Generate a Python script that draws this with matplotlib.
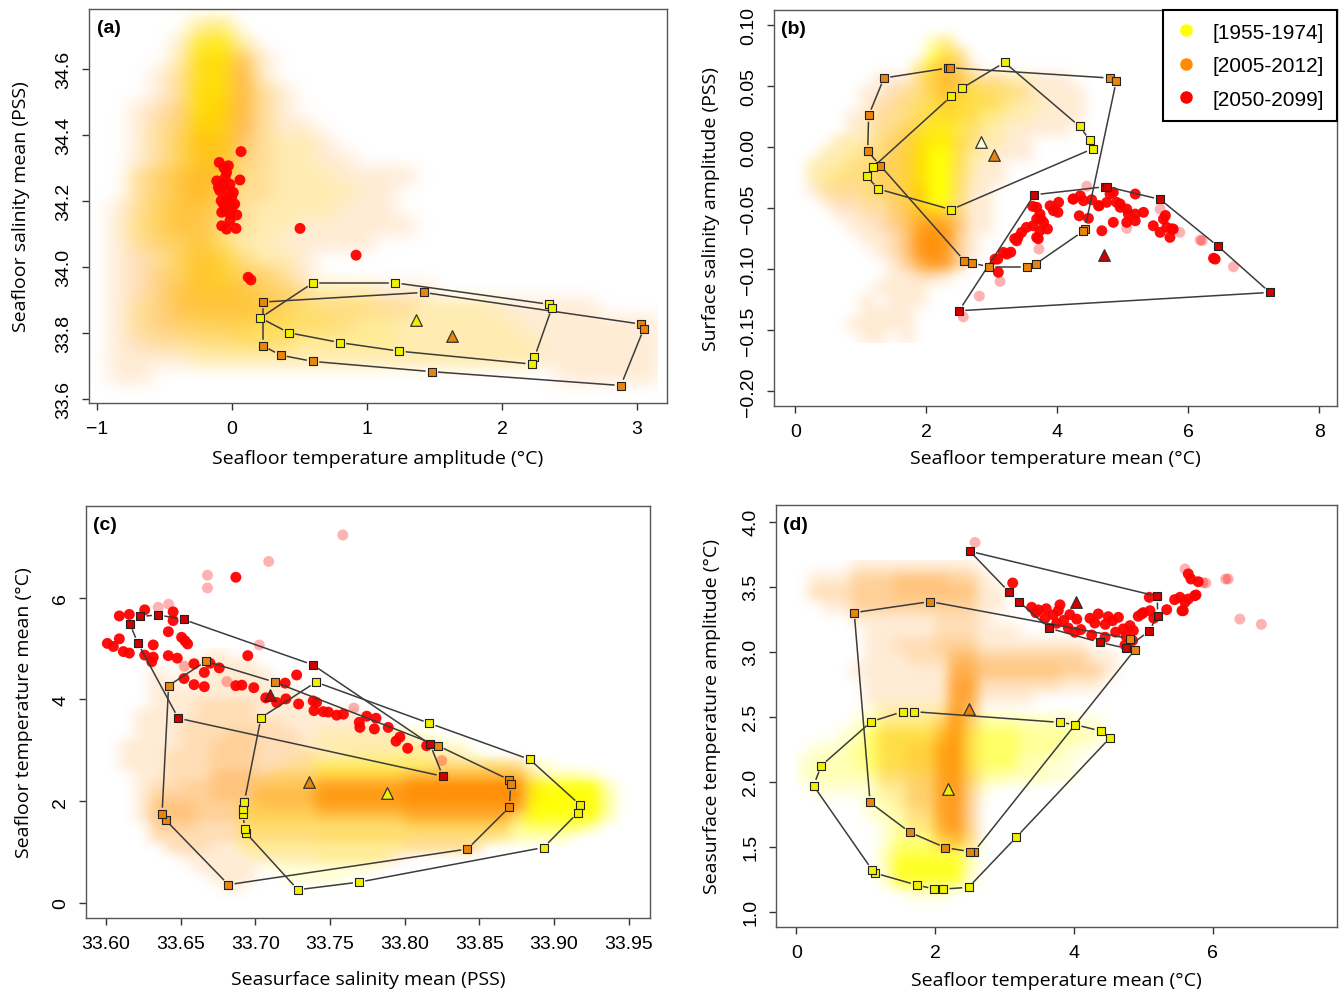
"""
Four-panel climate envelope plot: per-period clouds, hull outlines and centroids
"""

import numpy as np
import matplotlib.pyplot as plt
from matplotlib.colors import to_rgb
from matplotlib.lines import Line2D

plt.rcParams['font.family'] = ['Liberation Sans', 'DejaVu Sans']

YELLOW, ORANGE, RED = '#FFFF00', '#FF8C00', '#FF0000'
SQ_FACE = {'y': '#F0F000', 'o': '#E8850F', 'r': '#D00000'}
PERIODS = ['[1955-1974]', '[2005-2012]', '[2050-2099]']

# ---------------- panel (a) ----------------
a_xticks = [-1, 0, 1, 2, 3]
a_yticks = [33.6, 33.8, 34.0, 34.2, 34.4, 34.6]
a_xlim, a_ylim = (-1.059, 3.222), (33.587, 34.781)
a_grid_extent, a_grid_cols = (-1.05, 3.15, 33.6, 34.8), 28
a_yel_cloud = [
    "", "5:2 6:3", "5:7 6:8 7:1", "4:1 5:8 6:9 7:2", "4:1 5:8 6:9 7:2",
    "4:1 5:9 6:9 7:2 8:1", "4:1 5:9 6:9 7:2 8:1", "3:1 4:2 5:9 6:8 7-8:1",
    "3:1 4:3 5:8 6:7 7-10:1", "3:1 4:3 5:7 6:6 7-10:1",
    "2:1 3:2 4:4 5:5 6:5 7:2 8-11:1", "2:1 3:2 4:4 5:5 6:3 7-12:1",
    "2:1 3:3 4:4 5:4 6:2 7-11:1", "2:2 3:3 4:4 5:3 6:2 7-9:1",
    "2:1 3:2 4:3 5:4 6:3 7-8:1", "3:1 4:3 5:5 6:5 7:2 8-9:1",
    "3:1 4:3 5:6 6:6 7:3 8:2 9:1", "3:1 4:3 5:5 6:5 7:4 8:3 9:2 10-13:1",
    "2-3:1 4:3 5-8:4 9-10:3 11-13:2 14-19:1",
    "2-3:1 4:2 5-6:3 7-9:4 10-11:3 12-14:2 15-20:1",
    "3-4:1 5-6:2 7-9:3 10-14:2 15-21:1", "5-21:1", "", "",
]
a_org_cloud = [
    "", "5-6:1", "4:1 5:1 6:1 7:1", "4:1 5:2 6:2 7:4 8:1",
    "3:1 4:2 5:2 6:2 7:5 8:1", "3:1 4:2 5:2 6:2 7:5 8:2 9:1",
    "2:1 3:2 4:3 5:2 6:3 7:5 8:2 9:1", "2:1 3:2 4:3 5:3 6:3 7:5 8:2 9-10:1",
    "2:1 3:2 4:3 5:4 6:4 7:4 8:2 9-11:1", "2:1 3:2 4:3 5:4 6:4 7:3 8:2 9-12:1",
    "2:2 3:3 4:4 5:5 6:4 7:2 8:2 9-15:1", "2:2 3:3 4:4 5:5 6:3 7:2 8:2 9-14:1",
    "1:1 2:2 3:3 4:4 5:4 6:3 7:2 8-14:1", "1:1 2:2 3:3 4:4 5:4 6:2 7:2 8-15:1",
    "1:1 2:2 3:3 4:3 5:4 6:2 7-13:1", "1:1 2:2 3:2 4:3 5:4 6:3 7:2 8-10:1",
    "1:1 2:2 3:3 4:3 5:4 6:3 7:3 8:3 9:2 10:1",
    "1:1 2:2 3:3 4-7:4 8:3 9:3 10:2 11-16:1",
    "1:1 2:2 3:3 4-8:4 9:3 10-15:2 16-24:1",
    "1:1 2:2 3-7:3 8-12:2 13-27:1", "1:1 2-9:2 10-27:1", "1-27:1",
    "1-2:1 23-27:1", "",
]
a_red_x = [0.067, -0.094, -0.027, -0.04, -0.113, -0.064, -0.015, 0.059, -0.089, 0.01,
           -0.04, -0.002, -0.064, -0.052, -0.076, -0.015, 0.035, -0.015, -0.076, -0.04,
           0.03, 0.504, 0.919, 0.12, 0.14, -0.10, -0.05, 0.0, -0.03, 0.02, -0.08, -0.06]
a_red_y = [34.349, 34.316, 34.306, 34.286, 34.26, 34.25, 34.25, 34.263, 34.23, 34.225,
           34.205, 34.21, 34.19, 34.17, 34.165, 34.16, 34.157, 34.14, 34.124, 34.114,
           34.116, 34.116, 34.035, 33.968, 33.96, 34.24, 34.27, 34.18, 34.23, 34.19, 34.2, 34.3]
a_red_fx, a_red_fy = [], []
a_yel_hx = [0.21, 0.60, 1.21, 2.35, 2.37, 2.24, 2.22, 1.24, 0.80, 0.42]
a_yel_hy = [33.845, 33.951, 33.951, 33.886, 33.876, 33.725, 33.705, 33.744, 33.770, 33.800]
a_org_hx = [0.23, 1.42, 3.03, 3.05, 2.88, 1.48, 0.60, 0.36, 0.23]
a_org_hy = [33.893, 33.922, 33.826, 33.812, 33.640, 33.682, 33.713, 33.732, 33.760]
a_tri = {'y': (1.36, 33.84), 'o': (1.63, 33.79)}

# ---------------- panel (b) ----------------
b_xticks = [0, 2, 4, 6, 8]
b_yticks = [-0.20, -0.15, -0.10, -0.05, 0.00, 0.05, 0.10]
b_xlim, b_ylim = (-0.325, 8.27), (-0.212, 0.1123)
b_grid_extent, b_grid_cols = (0.0, 6.0, -0.16, 0.10), 30
b_yel_cloud = [
    "", "10:2 11:3", "10:5 11:5 12:2", "9:2 10:6 11:5 12:2",
    "9:2 10:5 11:4 12:3 13:2 14-17:1",
    "8:1 9:2 10:4 11:5 12:6 13:5 14:4 15:3 16:2 17:1",
    "7:1 8:2 9:3 10:5 11:6 12:6 13:5 14:4 15:3 16:2 17-18:1",
    "6-7:1 8:2 9:4 10:6 11:7 12:6 13:4 14:3 15:2 16-17:1",
    "5-6:1 7:2 8:3 9:6 10:8 11:8 12:5 13:3 14:2 15:1",
    "3-5:1 6-7:2 8:4 9:8 10:9 11:9 12:5 13:2 14-15:1",
    "2-3:1 4-6:2 7:3 8:5 9-11:9 12:4 13:2 14:1",
    "1-2:1 3-5:2 6-7:3 8:5 9-11:9 12:4 13:1",
    "1:1 2-5:2 6-7:3 8:5 9-11:9 12:3 13:1",
    "2-4:1 5-6:2 7:3 8:5 9-11:9 12:3",
    "5-6:1 7:2 8:4 9:8 10:9 11:8 12:2",
    "7:1 8:2 9:5 10:7 11:5 12:1", "8:1 9-11:2", "9-11:1",
    "", "", "", "", "", "", "", "",
]
b_org_cloud = [
    "", "11:1", "11-12:2", "9:1 10:2 11:4 12:3 13:1",
    "6-8:1 9:2 10:3 11:5 12:4 13-15:2 16-20:1",
    "5-6:1 7-9:2 10:3 11:4 12:3 13-17:2 18-21:1",
    "5:1 6-10:2 11:3 12-15:2 16-21:1",
    "4-5:1 6-13:2 14-21:1",
    "4-5:1 6-7:2 8:3 9:2 10-12:1 13:2 14-20:1",
    "3-5:1 6:2 7-8:3 9:2 10-11:1 12-13:2 14-17:1",
    "2-4:1 5-6:2 7-8:3 9:2 12:2 13-17:1",
    "1-3:1 4-5:2 6-8:3 9:2 12:2 13-15:1",
    "1-2:1 3-5:2 6-8:3 9:2 12:2 13-15:1",
    "1:1 2-5:2 6-9:3 12:2 13-14:1",
    "2:1 3-6:2 7-9:3 12:2 13-14:1",
    "3-4:1 5-6:2 7:3 8:4 9:5 10-11:4 12:3 13-14:1",
    "4-5:1 6:2 7:3 8:4 9:7 10:8 11:7 12:4 13-14:1",
    "5-6:1 7:2 8:4 9:8 10:9 11:8 12:3 13:1",
    "6:1 7:2 8:4 9:8 10:9 11:8 12:3 13:1",
    "7:1 8:3 9:6 10:8 11:7 12:3", "7-8:1 9-10:2 11:1",
    "6-9:1", "5:1 7-9:1", "5-8:1", "4-8:1", "5-6:1 8:1",
]
b_red_x = [3.625, 3.735, 3.89, 4.02, 3.94, 3.685, 3.79, 3.63, 3.53, 3.455, 3.40, 3.38,
           3.685, 3.735, 3.23, 3.175, 3.05, 3.10, 4.245, 4.35, 4.40, 4.525, 4.63, 4.755,
           4.805, 4.855, 4.905, 4.96, 5.06, 5.085, 5.19, 5.315, 5.19, 4.855, 4.68, 4.475,
           4.335, 5.465, 5.57, 5.67, 5.72, 5.77, 5.62, 6.385, 3.685, 3.75, 3.85, 3.71,
           3.35, 3.29, 3.09, 4.01, 4.24, 4.64, 4.96, 5.19, 5.06, 5.65, 5.75, 6.41]
b_red_y = [-0.0485, -0.0548, -0.048, -0.0452, -0.052, -0.0589, -0.0616, -0.0644, -0.0657,
           -0.0698, -0.0739, -0.0767, -0.0739, -0.0685, -0.0876, -0.0862, -0.0917, -0.1025,
           -0.0425, -0.0398, -0.0439, -0.0431, -0.048, -0.0452, -0.0384, -0.037, -0.0452,
           -0.0466, -0.0507, -0.0548, -0.0603, -0.0534, -0.0384, -0.0616, -0.0685, -0.0583,
           -0.0562, -0.0644, -0.0698, -0.0657, -0.0739, -0.0671, -0.0589, -0.091, -0.0493,
           -0.0589, -0.067, -0.075, -0.075, -0.086, -0.0917, -0.0534, -0.0425, -0.048,
           -0.0493, -0.0548, -0.0616, -0.056, -0.067, -0.0917]
b_red_fx = [3.125, 2.81, 2.565, 5.06, 5.87, 5.57, 6.18, 6.69, 3.72, 4.45, 6.21]
b_red_fy = [-0.110, -0.122, -0.139, -0.0665, -0.0698, -0.0507, -0.0761, -0.098, -0.0835,
            -0.032, -0.0766]
b_yel_hx = [3.195, 4.34, 4.50, 4.54, 2.38, 1.27, 1.09, 1.183, 2.38, 2.54]
b_yel_hy = [0.0694, 0.017, 0.0055, -0.0013, -0.0512, -0.0343, -0.024, -0.0166, 0.0416, 0.0481]
b_org_hx = [1.354, 2.334, 2.36, 4.80, 4.90, 4.42, 4.39, 3.67, 3.54, 2.96, 2.70, 2.58,
            1.30, 1.105, 1.12]
b_org_hy = [0.0566, 0.0648, 0.065, 0.0566, 0.0541, -0.067, -0.069, -0.0957, -0.098,
            -0.098, -0.095, -0.093, -0.0152, -0.0035, 0.026]
b_red_hx = [3.65, 4.73, 4.76, 5.57, 6.456, 7.245, 2.50]
b_red_hy = [-0.039, -0.0324, -0.0324, -0.0428, -0.0813, -0.119, -0.134]
b_tri = {'y': (2.83, 0.0039), 'o': (3.04, -0.0065), 'r': (4.72, -0.088)}

# ---------------- panel (c) ----------------
c_xticks = [33.60, 33.65, 33.70, 33.75, 33.80, 33.85, 33.90, 33.95]
c_yticks = [0, 2, 4, 6]
c_xlim, c_ylim = (33.5867, 33.9642), (-0.295, 7.80)
c_grid_extent, c_grid_cols = (33.59, 33.95, 0.0, 5.0), 36
c_yel_cloud = [
    "", "", "", "", "", "", "", "",
    "15-22:1", "15-24:1", "14-16:1 17-22:2 23-25:1",
    "13-14:1 15-22:4 23-27:2 28-30:1",
    "12-14:2 15-20:5 21-28:3 29-32:2 33:1",
    "11-14:2 15-20:3 21-28:2 29-33:8 34:2",
    "11-14:2 15-20:3 21-28:2 29-33:9 34:3",
    "10-14:3 15-20:3 21-28:2 29-33:9 34:3",
    "10-14:3 15-20:3 21-28:3 29-33:8 34:2",
    "10-14:3 15-20:3 21-28:3 29-32:5 33:2",
    "10-14:2 15-20:3 21-27:2 28-31:2",
    "10-14:2 15-20:2 21-25:1", "11-14:1 15-19:2", "12-18:1", "13-16:1", "", "",
]
c_org_cloud = [
    "8:1", "6-10:1", "4:1 6-11:1", "4-5:1 7-12:1", "4-13:1",
    "4-6:1 7-10:2 11-14:1", "3-6:1 7-10:2 11-17:1",
    "3-5:1 6-12:2 13-18:1", "3-5:1 6-8:2 9-10:3 11-13:2 14-20:1",
    "2-5:1 6-7:2 8-10:3 11-13:2 14-22:1",
    "2-4:1 5-7:2 8-10:3 11-14:2 15-24:1",
    "2-4:1 5-7:2 8-10:3 11-14:2 15-22:1 23-28:2",
    "3-4:1 5-7:2 8-10:4 11-20:3 21-28:5 29:1",
    "3:1 4-5:2 6-7:3 8-14:4 15-20:7 21-28:9 29:1",
    "3:1 4-7:3 8-10:4 11-14:5 15-20:8 21-28:9 29:1",
    "3:1 4-6:4 7-10:3 11-14:4 15-20:7 21-28:8",
    "3:1 4-6:4 7-14:3 15-20:4 21-27:6 28:2",
    "4-6:3 7-20:2 21-27:3", "4-26:2 27:1",
    "5-7:2 8-20:1 21-25:2", "6-20:1", "7-10:1", "8-10:1", "9:1", "",
]
c_red_x = [33.609, 33.6157, 33.626, 33.645, 33.645, 33.6418, 33.6507, 33.653, 33.6547,
           33.601, 33.605, 33.609, 33.6117, 33.6157, 33.6317, 33.626, 33.6317, 33.6307,
           33.6418, 33.6478, 33.659, 33.6659, 33.6523, 33.659, 33.6659, 33.6759, 33.6697,
           33.687, 33.691, 33.699, 33.695, 33.707, 33.7143, 33.7205, 33.720, 33.7277,
           33.729, 33.7388, 33.741, 33.7393, 33.7455, 33.7489, 33.7545, 33.759, 33.7746,
           33.7808, 33.7696, 33.77, 33.7797, 33.789, 33.7968, 33.7942, 33.802, 33.8147,
           33.687]
c_red_y = [5.64, 5.67, 5.76, 5.72, 5.55, 5.33, 5.22, 5.15, 5.09, 5.10, 5.04, 5.19, 4.94,
           4.91, 5.07, 4.87, 4.83, 4.74, 4.86, 4.81, 4.70, 4.53, 4.41, 4.29, 4.25, 4.62,
           4.71, 4.27, 4.28, 4.23, 4.86, 4.03, 3.94, 4.01, 4.32, 4.48, 3.91, 3.97, 3.94,
           3.78, 3.76, 3.75, 3.69, 3.71, 3.67, 3.63, 3.55, 3.45, 3.42, 3.45, 3.26, 3.18,
           3.04, 3.09, 6.40]
c_red_fx = [33.635, 33.642, 33.6525, 33.681, 33.7027, 33.766, 33.8248, 33.7586, 33.709,
            33.668, 33.668]
c_red_fy = [5.81, 5.87, 4.65, 4.35, 5.07, 3.83, 2.80, 7.23, 6.71, 6.44, 6.19]
c_yel_hx = [33.7406, 33.8166, 33.8837, 33.9173, 33.9158, 33.893, 33.7695, 33.7285, 33.694,
            33.6932, 33.6915, 33.6915, 33.6927, 33.7038]
c_yel_hy = [4.34, 3.53, 2.82, 1.93, 1.77, 1.09, 0.41, 0.26, 1.37, 1.45, 1.75, 1.85, 1.99, 3.64]
c_org_hx = [33.667, 33.713, 33.8223, 33.870, 33.871, 33.870, 33.842, 33.682, 33.640,
            33.6376, 33.642]
c_org_hy = [4.75, 4.34, 3.09, 2.42, 2.33, 1.88, 1.06, 0.36, 1.63, 1.75, 4.27]
c_red_hx = [33.616, 33.623, 33.635, 33.652, 33.7385, 33.817, 33.8255, 33.6485, 33.6215]
c_red_hy = [5.49, 5.63, 5.66, 5.57, 4.68, 3.12, 2.49, 3.63, 5.10]
c_tri = {'y': (33.788, 2.16), 'o': (33.736, 2.38), 'r': (33.710, 4.09)}

# ---------------- panel (d) ----------------
d_xticks = [0, 2, 4, 6]
d_yticks = [1.0, 1.5, 2.0, 2.5, 3.0, 3.5, 4.0]
d_xlim, d_ylim = (-0.294, 7.79), (0.882, 4.128)
d_grid_extent, d_grid_cols = (0.0, 6.0, 1.0, 3.7), 30
d_yel_cloud = [
    "", "", "", "", "", "", "", "", "", "", "",
    "5-10:1",
    "4:1 5-15:3 16-19:2 20-21:1",
    "3:1 4:2 5-15:5 16-19:3 20-21:2",
    "1-2:1 3:2 4:3 5-15:5 16-18:3 19-20:1",
    "0:1 1-3:2 4:3 5-15:5 16-17:2 18-19:1",
    "0:1 1-4:2 5-14:3 15-17:2 18-19:1",
    "1-5:1 6-10:2 11-13:1", "5-10:2 11:1", "5:1 6-10:2",
    "6:1 7-10:3 11:2", "6:1 7-11:4 12:2", "6:2 7-11:6 12:2",
    "6:2 7-11:8 12:2", "6:1 7-11:7 12:1", "8-10:1", "",
]
d_org_cloud = [
    "4-12:1",
    "1-3:1 4-6:3 7-10:4 11-12:3 13:1",
    "1-3:2 4-6:3 7-12:4 13-14:1",
    "2-3:1 4-9:3 10-12:3 13-14:1",
    "4-9:1 10-12:2 13:1",
    "5-9:1 10-12:2 13-15:1",
    "5-6:1 7-9:2 10-12:3 13-20:1",
    "5-7:1 8-10:2 11-12:5 13-20:3 21-22:1",
    "4-10:1 11-12:6 13-18:4 19-21:3 22:1",
    "5-10:1 11-12:7 13-18:2 19-21:1",
    "5-10:1 11-12:7 13-16:1",
    "6-10:1 11:8 12:5",
    "6-9:1 10:3 11:8 12:3",
    "6-9:2 10:5 11:8 12:2",
    "6-7:2 8-9:3 10:7 11:8 12:2",
    "6-7:2 8-9:3 10:7 11:8 12:2",
    "6-7:2 8-9:3 10:7 11:8 12:3",
    "6-7:1 8-9:3 10:7 11:8 12:3",
    "7:1 8-9:3 10:7 11:8 12:3",
    "8-9:2 10:7 11:8 12:3",
    "8-9:1 10:6 11:8 12:3",
    "10:3 11:5 12:2",
    "", "", "", "", "",
]
d_red_x = [3.117, 3.39, 3.486, 3.582, 3.70, 3.774, 3.798, 3.75, 3.94, 4.04, 3.918, 4.014,
           4.23, 4.30, 4.35, 4.255, 4.447, 4.494, 4.557, 4.64, 4.71, 4.807, 4.855, 4.926,
           4.975, 5.095, 5.085, 5.336, 5.575, 5.527, 5.647, 5.758, 5.647, 5.686, 5.79,
           4.845, 4.735, 5.15, 5.74, 5.556, 3.45, 3.60, 3.85, 4.10, 4.45, 4.60, 4.75, 5.00,
           5.45, 5.60]
d_red_y = [3.528, 3.341, 3.321, 3.257, 3.282, 3.315, 3.36, 3.218, 3.285, 3.25, 3.182,
           3.149, 3.257, 3.22, 3.29, 3.128, 3.111, 3.269, 3.238, 3.264, 3.175, 3.20, 3.162,
           3.272, 3.29, 3.315, 3.418, 3.323, 3.315, 3.418, 3.405, 3.436, 3.598, 3.559,
           3.538, 3.085, 3.051, 3.257, 3.43, 3.315, 3.30, 3.33, 3.24, 3.17, 3.21, 3.15,
           3.12, 3.30, 3.40, 3.38]
d_red_fx = [5.60, 5.90, 6.223, 2.574, 6.39, 6.70, 5.86, 6.185]
d_red_fy = [3.636, 3.528, 3.559, 3.84, 3.25, 3.21, 3.53, 3.559]
d_yel_hx = [1.53, 1.70, 3.796, 4.02, 4.383, 4.52, 3.167, 2.48, 2.117, 1.988, 1.735, 1.13,
            1.093, 0.247, 0.358, 1.08]
d_yel_hy = [2.538, 2.538, 2.456, 2.438, 2.39, 2.338, 1.572, 1.187, 1.174, 1.174, 1.205,
            1.297, 1.32, 1.969, 2.123, 2.462]
d_org_hx = [0.833, 1.926, 4.80, 4.877, 2.56, 2.50, 2.148, 1.636, 1.062]
d_org_hy = [3.30, 3.385, 3.10, 3.015, 1.462, 1.462, 1.492, 1.61, 1.84]
d_red_hx = [2.50, 5.20, 5.206, 5.08, 4.75, 4.37, 3.644, 3.207, 3.063]
d_red_hy = [3.772, 3.426, 3.277, 3.157, 3.026, 3.072, 3.18, 3.385, 3.46]
d_tri = {'y': (2.19, 1.944), 'o': (2.488, 2.559), 'r': (4.03, 3.379)}


def parse_grid(specs, ncols):
    """Row specs like '3:1 5-8:4' -> density array (0..9)"""
    grid = np.zeros((len(specs), ncols))
    for j, spec in enumerate(specs):
        for tok in spec.split():
            cols, val = tok.split(':')
            lo, _, hi = cols.partition('-')
            grid[j, int(lo):int(hi or lo) + 1] = int(val)
    return grid


def soften(grid, up=6, sigma=2.6):
    """Upsample the density cells and blur them so the cloud edges are soft"""
    big = np.repeat(np.repeat(grid, up, axis=0), up, axis=1)
    r = int(3 * sigma)
    k = np.exp(-0.5 * (np.arange(-r, r + 1) / sigma) ** 2)
    k /= k.sum()
    big = np.apply_along_axis(lambda v: np.convolve(v, k, mode='same'), 0, big)
    big = np.apply_along_axis(lambda v: np.convolve(v, k, mode='same'), 1, big)
    return big


def draw_cloud(ax, specs, ncols, extent, color, z):
    dens = soften(parse_grid(specs, ncols))
    img = np.zeros(dens.shape + (4,))
    img[..., :3] = to_rgb(color)
    img[..., 3] = np.clip(0.97 * (dens / 9.0) ** 0.8, 0, 1)
    ax.imshow(img, extent=extent, origin='upper', aspect='auto',
              interpolation='bilinear', zorder=z)


def draw_hull(ax, xs, ys, key, gap=7):
    """Closed outline with R type='b' style gaps around the vertices"""
    pts = ax.transData.transform(np.column_stack([xs, ys]))
    inv = ax.transData.inverted()
    for p, q in zip(pts, np.roll(pts, -1, axis=0)):
        d = q - p
        L = np.hypot(*d)
        if L <= 2 * gap:
            continue
        u = d / L
        seg = inv.transform(np.array([p + u * gap, q - u * gap]))
        ax.plot(seg[:, 0], seg[:, 1], color='#3c3c3c', lw=1.1, zorder=4)
    ax.scatter(xs, ys, marker='s', s=38, c=SQ_FACE[key], edgecolors='#222222',
               linewidths=0.8, zorder=5)


def setup_axes(fig, box, xlim, ylim, xticks, yticks, xfmt, yfmt, xlabel, ylabel, lab_xy):
    L, R, T, B = box
    ax = fig.add_axes([L / 1344, (995 - B) / 995, (R - L) / 1344, (B - T) / 995])
    ax.set_xlim(*xlim)
    ax.set_ylim(*ylim)
    ax.set_xticks(xticks)
    ax.set_xticklabels([xfmt.format(v).replace('-', '\u2212') for v in xticks])
    ax.set_yticks(yticks)
    ax.set_yticklabels([yfmt.format(v).replace('-', '\u2212') for v in yticks],
                       rotation=90, va='center')
    ax.tick_params(direction='out', length=5, width=1, color='#333333',
                   labelsize=14, pad=7)
    for sp in ax.spines.values():
        sp.set_color('#555555')
        sp.set_linewidth(1.0)
    ax.set_xlabel(xlabel, family=['Open Sans', 'DejaVu Sans'], fontsize=14)
    ax.set_ylabel(ylabel, family=['Open Sans', 'DejaVu Sans'], fontsize=14)
    ax.xaxis.set_label_coords(0.5, lab_xy[1])
    ax.yaxis.set_label_coords(lab_xy[0], 0.5)
    return ax


def draw_panel(ax, letter, yel_cloud, org_cloud, ncols, extent, red_x, red_y, red_fx, red_fy,
               hulls, tri, pale_yellow_tri=False):
    draw_cloud(ax, yel_cloud, ncols, extent, YELLOW, 1)
    draw_cloud(ax, org_cloud, ncols, extent, ORANGE, 2)
    ax.scatter(red_fx, red_fy, s=62, color=RED, alpha=0.3, edgecolors='none', zorder=3)
    ax.scatter(red_x, red_y, s=62, color=RED, alpha=0.95, edgecolors='none', zorder=3)
    for key, (hx, hy) in hulls.items():
        draw_hull(ax, hx, hy, key)
    for key, (tx, ty) in tri.items():
        face = '#FFFFD8' if (key == 'y' and pale_yellow_tri) else SQ_FACE[key]
        ax.scatter([tx], [ty], marker='^', s=70, c=face, edgecolors='#333333',
                   linewidths=0.9, zorder=6)
    ax.text(0.013, 0.975, f'({letter})', transform=ax.transAxes, ha='left', va='top',
            fontsize=14, fontweight='bold', zorder=7)


fig = plt.figure(figsize=(13.44, 9.95), dpi=100)

ax_a = setup_axes(fig, (89, 667, 10, 404), a_xlim, a_ylim, a_xticks, a_yticks, '{:g}', '{:.1f}',
                  'Seafloor temperature amplitude (°C)', 'Seafloor salinity mean (PSS)',
                  (-0.102, -0.117))
draw_panel(ax_a, 'a', a_yel_cloud, a_org_cloud, a_grid_cols, a_grid_extent,
           a_red_x, a_red_y, a_red_fx, a_red_fy,
           {'o': (a_org_hx, a_org_hy), 'y': (a_yel_hx, a_yel_hy)}, a_tri)

ax_b = setup_axes(fig, (774, 1337, 11, 407), b_xlim, b_ylim, b_xticks, b_yticks, '{:g}', '{:.2f}',
                  'Seafloor temperature mean (°C)', 'Surface salinity amplitude (PSS)',
                  (-0.096, -0.109))
draw_panel(ax_b, 'b', b_yel_cloud, b_org_cloud, b_grid_cols, b_grid_extent,
           b_red_x, b_red_y, b_red_fx, b_red_fy,
           {'o': (b_org_hx, b_org_hy), 'y': (b_yel_hx, b_yel_hy), 'r': (b_red_hx, b_red_hy)},
           b_tri, pale_yellow_tri=True)
handles = [Line2D([], [], ls='', marker='o', markersize=8, color=c) for c in (YELLOW, ORANGE, RED)]
leg = ax_b.legend(handles, PERIODS, loc='upper right', borderaxespad=0, fancybox=False,
                  framealpha=1, edgecolor='black', fontsize=15, handlelength=1.0,
                  handletextpad=0.8, labelspacing=0.7, borderpad=0.6)
leg.get_frame().set_linewidth(1.5)
leg.set_zorder(10)

ax_c = setup_axes(fig, (86, 650, 507, 919), c_xlim, c_ylim, c_xticks, c_yticks, '{:.2f}', '{:g}',
                  'Seasurface salinity mean (PSS)', 'Seafloor temperature mean (°C)',
                  (-0.094, -0.126))
draw_panel(ax_c, 'c', c_yel_cloud, c_org_cloud, c_grid_cols, c_grid_extent,
           c_red_x, c_red_y, c_red_fx, c_red_fy,
           {'o': (c_org_hx, c_org_hy), 'y': (c_yel_hx, c_yel_hy), 'r': (c_red_hx, c_red_hy)},
           c_tri)

ax_d = setup_axes(fig, (776, 1337, 506, 928), d_xlim, d_ylim, d_xticks, d_yticks, '{:g}', '{:.1f}',
                  'Seafloor temperature mean (°C)', 'Seasurface temperature amplitude (°C)',
                  (-0.098, -0.104))
draw_panel(ax_d, 'd', d_yel_cloud, d_org_cloud, d_grid_cols, d_grid_extent,
           d_red_x, d_red_y, d_red_fx, d_red_fy,
           {'o': (d_org_hx, d_org_hy), 'y': (d_yel_hx, d_yel_hy), 'r': (d_red_hx, d_red_hy)},
           d_tri)

fig.savefig('out.png', dpi=100)
plt.close(fig)
